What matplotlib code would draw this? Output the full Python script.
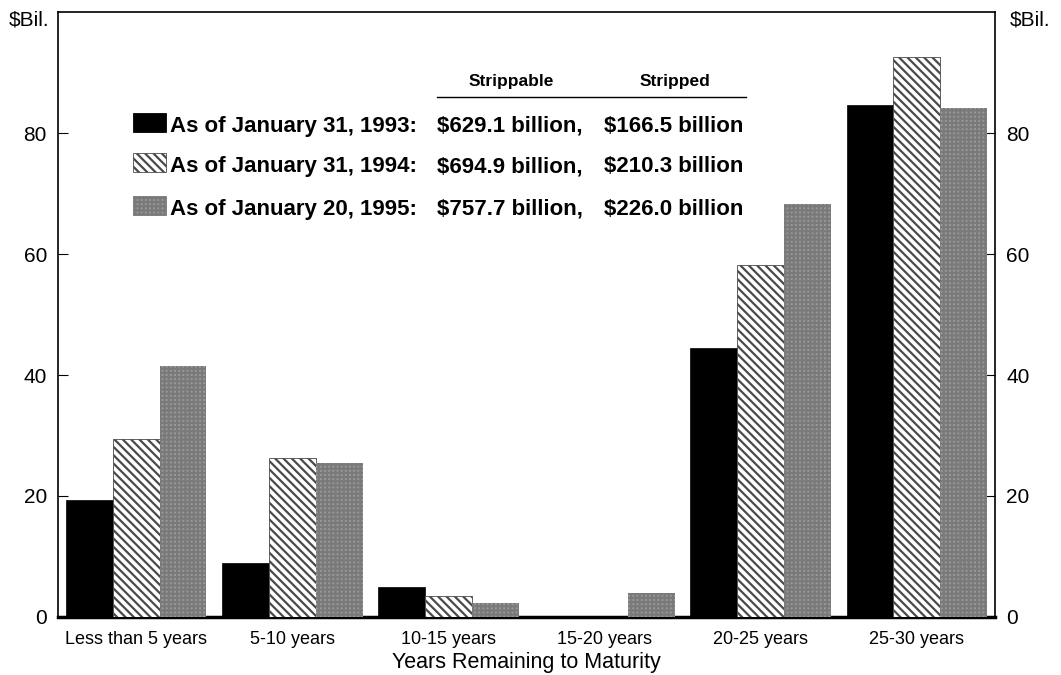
import numpy as np
import matplotlib
matplotlib.use('Agg')
import matplotlib.pyplot as plt
from matplotlib.patches import Rectangle
from matplotlib.lines import Line2D

plt.rcParams.update({
    'font.family': ['Liberation Sans', 'DejaVu Sans'],
    'hatch.linewidth': 1.6,
})

# data
categories = ['Less than 5 years', '5-10 years', '10-15 years',
              '15-20 years', '20-25 years', '25-30 years']
jan1993 = [19.4, 8.9, 4.9, 0.0, 44.4, 84.7]
jan1994 = [29.5, 26.2, 3.5, 0.0, 58.2, 92.6]
jan1995 = [41.5, 25.5, 2.3, 4.0, 68.3, 84.2]
series_labels = ['As of January 31, 1993', 'As of January 31, 1994', 'As of January 20, 1995']
strippable = ['$629.1 billion,', '$694.9 billion,', '$757.7 billion,']
stripped = ['$166.5 billion', '$210.3 billion', '$226.0 billion']
yticks = [0, 20, 40, 60, 80]

fig = plt.figure(figsize=(10.61, 6.75), dpi=100)
ax = fig.add_axes([0.0547, 0.086, 0.883, 0.896])

x = np.arange(len(categories))
w = 0.3
ax.bar(x - w, jan1993, w, color='black', edgecolor='black', linewidth=0.5, zorder=3)
ax.bar(x, jan1994, w, color='white', edgecolor='#4a4a4a', hatch='\\\\\\\\', linewidth=0.6, zorder=3)
ax.bar(x + w, jan1995, w, color='#9a9a9a', edgecolor='#7a7a7a', hatch='++++', linewidth=0, zorder=3)

ax.set_xlim(-0.5, len(categories) - 0.5)
ax.set_ylim(0, 100)
ax.set_yticks(yticks)
ax.tick_params(axis='y', direction='in', length=7, labelsize=15, right=True, labelright=True, pad=8)
ax.tick_params(axis='x', length=0, pad=10)
ax.set_xticks(x)
ax.set_xticklabels(categories, fontsize=13)
ax.set_xlabel('Years Remaining to Maturity', fontsize=15.5, labelpad=3)
for s in ax.spines.values():
    s.set_linewidth(1.2)
ax.spines['bottom'].set_linewidth(2.5)

fig.text(0.008, 0.962, '$Bil.', fontsize=15)
fig.text(0.952, 0.962, '$Bil.', fontsize=15)

# legend table
fs = 16
fig.text(0.482, 0.872, 'Strippable', fontsize=12.5, fontweight='bold', ha='center')
fig.text(0.636, 0.872, 'Stripped', fontsize=12.5, fontweight='bold', ha='center')
fig.add_artist(Line2D([0.412, 0.703], [0.856, 0.856], color='black', lw=1.0,
                      transform=fig.transFigure))
styles = [dict(facecolor='black', edgecolor='black'),
          dict(facecolor='white', edgecolor='#4a4a4a', hatch='\\\\\\\\'),
          dict(facecolor='#9a9a9a', edgecolor='#7a7a7a', hatch='++++')]
rows_y = [0.805, 0.745, 0.682]
for i, yy in enumerate(rows_y):
    fig.add_artist(Rectangle((0.125, yy), 0.031, 0.028, transform=fig.transFigure,
                             lw=0.6, **styles[i]))
    fig.text(0.160, yy, series_labels[i] + ':', fontsize=fs, fontweight='bold')
    fig.text(0.412, yy, strippable[i], fontsize=fs, fontweight='bold')
    fig.text(0.701, yy, stripped[i], fontsize=fs, fontweight='bold', ha='right')

fig.savefig('out.png', dpi=100)
